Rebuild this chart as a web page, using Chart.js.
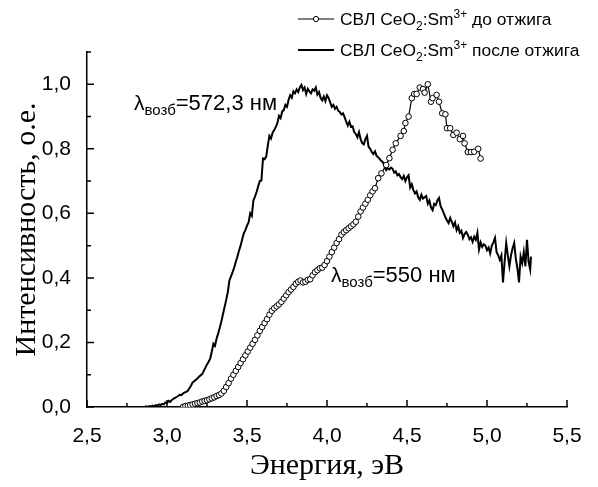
<!DOCTYPE html>
<html><head><meta charset="utf-8">
<script src="https://cdn.jsdelivr.net/npm/chart.js@4.4.1/dist/chart.umd.min.js"></script>
<style>html,body{margin:0;padding:0;background:#fff}#wrap{width:598px;height:487px;position:relative}canvas{display:block}</style>
</head><body>
<div id="wrap"><canvas id="c" width="598" height="487"></canvas></div>
<script>
// Series "до отжига" (open circles)
const energyBefore = [3.10,3.115,3.13,3.145,3.16,3.175,3.19,3.205,3.22,3.235,3.25,3.265,3.28,3.295,3.31,3.325,3.34,3.355,3.37,3.385,3.40,3.415,3.43,3.445,3.46,3.475,3.49,3.505,3.52,3.535,3.55,3.565,3.58,3.595,3.61,3.625,3.64,3.655,3.67,3.685,3.70,3.715,3.73,3.745,3.76,3.775,3.79,3.805,3.82,3.835,3.85,3.865,3.88,3.895,3.91,3.925,3.94,3.955,3.97,3.985,4.00,4.015,4.03,4.045,4.06,4.075,4.09,4.105,4.12,4.135,4.15,4.165,4.18,4.195,4.21,4.225,4.24,4.255,4.27,4.285,4.30,4.32,4.34,4.37,4.39,4.41,4.43,4.46,4.48,4.49,4.51,4.53,4.545,4.56,4.58,4.60,4.61,4.63,4.65,4.66,4.685,4.70,4.72,4.74,4.75,4.77,4.79,4.81,4.83,4.85,4.86,4.88,4.90,4.92,4.945,4.96];
const intensityBefore = [0.000,0.003,0.004,0.006,0.008,0.010,0.012,0.014,0.017,0.019,0.021,0.024,0.027,0.030,0.034,0.037,0.042,0.050,0.062,0.074,0.088,0.100,0.112,0.124,0.136,0.148,0.160,0.172,0.184,0.196,0.208,0.222,0.236,0.248,0.260,0.272,0.286,0.298,0.306,0.312,0.318,0.326,0.336,0.346,0.356,0.364,0.372,0.382,0.388,0.392,0.386,0.388,0.394,0.396,0.408,0.418,0.424,0.430,0.432,0.440,0.452,0.466,0.480,0.494,0.508,0.520,0.534,0.542,0.548,0.554,0.560,0.566,0.574,0.590,0.606,0.618,0.630,0.642,0.656,0.668,0.678,0.709,0.724,0.750,0.771,0.797,0.817,0.840,0.855,0.880,0.900,0.957,0.970,0.970,0.990,0.985,0.974,1.000,0.946,0.957,0.967,0.946,0.910,0.907,0.864,0.864,0.843,0.850,0.830,0.840,0.817,0.790,0.790,0.791,0.800,0.770];

// Series "после отжига" (solid line)
const energyAfter = [2.86,2.87,2.88,2.89,2.90,2.91,2.92,2.93,2.94,2.95,2.96,2.97,2.98,2.99,3.00,3.01,3.02,3.03,3.04,3.05,3.06,3.07,3.08,3.09,3.10,3.11,3.12,3.13,3.14,3.15,3.16,3.17,3.18,3.19,3.20,3.21,3.22,3.23,3.24,3.25,3.26,3.27,3.28,3.29,3.30,3.31,3.32,3.33,3.34,3.35,3.36,3.37,3.38,3.39,3.40,3.41,3.42,3.43,3.44,3.45,3.46,3.47,3.48,3.49,3.50,3.51,3.52,3.53,3.54,3.55,3.56,3.57,3.58,3.59,3.60,3.61,3.62,3.63,3.64,3.65,3.66,3.67,3.68,3.69,3.70,3.71,3.72,3.73,3.74,3.75,3.76,3.77,3.78,3.79,3.80,3.81,3.82,3.83,3.84,3.85,3.86,3.87,3.88,3.89,3.90,3.91,3.92,3.93,3.94,3.95,3.96,3.97,3.98,3.99,4.00,4.01,4.02,4.03,4.04,4.05,4.06,4.07,4.08,4.09,4.10,4.11,4.12,4.13,4.14,4.15,4.16,4.17,4.18,4.19,4.20,4.21,4.22,4.23,4.24,4.25,4.26,4.27,4.28,4.29,4.30,4.31,4.32,4.33,4.34,4.35,4.36,4.37,4.38,4.39,4.40,4.41,4.42,4.43,4.44,4.45,4.46,4.47,4.48,4.49,4.50,4.51,4.52,4.53,4.54,4.55,4.56,4.57,4.58,4.59,4.60,4.61,4.62,4.63,4.64,4.65,4.66,4.67,4.68,4.69,4.70,4.71,4.72,4.73,4.74,4.75,4.76,4.77,4.78,4.79,4.80,4.81,4.82,4.83,4.84,4.85,4.86,4.87,4.88,4.89,4.90,4.91,4.92,4.93,4.94,4.95,4.96,4.97,4.98,4.99,5.00,5.01,5.02,5.03,5.04,5.05,5.06,5.07,5.08,5.09,5.10,5.11,5.12,5.13,5.14,5.15,5.16,5.17,5.18,5.19,5.20,5.21,5.22,5.23,5.24,5.25,5.26,5.27,5.275];
const intensityAfter = [0.000,0.002,0.000,0.003,0.001,0.004,0.002,0.006,0.004,0.008,0.006,0.010,0.008,0.014,0.012,0.019,0.016,0.022,0.025,0.028,0.031,0.034,0.038,0.037,0.042,0.045,0.047,0.050,0.058,0.066,0.076,0.080,0.084,0.088,0.094,0.098,0.102,0.112,0.122,0.132,0.140,0.150,0.172,0.196,0.190,0.212,0.228,0.246,0.266,0.288,0.310,0.332,0.356,0.392,0.405,0.418,0.432,0.450,0.466,0.484,0.500,0.520,0.538,0.548,0.562,0.572,0.600,0.592,0.640,0.652,0.666,0.684,0.700,0.702,0.770,0.768,0.776,0.810,0.840,0.832,0.850,0.858,0.868,0.880,0.902,0.895,0.916,0.920,0.936,0.930,0.952,0.966,0.958,0.978,0.972,0.984,0.976,0.990,0.998,0.982,0.990,0.970,0.986,0.978,0.972,0.984,0.980,0.990,0.968,0.976,0.958,0.950,0.962,0.948,0.966,0.958,0.944,0.930,0.936,0.924,0.930,0.918,0.914,0.906,0.910,0.898,0.884,0.872,0.884,0.868,0.870,0.852,0.846,0.836,0.852,0.830,0.818,0.814,0.830,0.840,0.806,0.800,0.790,0.784,0.792,0.778,0.774,0.768,0.762,0.758,0.744,0.734,0.740,0.736,0.742,0.738,0.726,0.730,0.718,0.722,0.712,0.706,0.716,0.700,0.712,0.718,0.680,0.690,0.672,0.662,0.668,0.650,0.642,0.658,0.646,0.650,0.654,0.630,0.640,0.618,0.610,0.630,0.626,0.640,0.648,0.622,0.612,0.600,0.588,0.578,0.570,0.586,0.574,0.560,0.572,0.548,0.560,0.540,0.546,0.524,0.536,0.542,0.534,0.520,0.526,0.512,0.528,0.518,0.540,0.488,0.510,0.496,0.504,0.500,0.486,0.494,0.476,0.500,0.510,0.524,0.480,0.470,0.456,0.470,0.386,0.450,0.508,0.470,0.436,0.470,0.492,0.508,0.460,0.430,0.386,0.466,0.446,0.480,0.436,0.518,0.450,0.426,0.466];

const legendLabels = ['до отжига', 'после отжига'];
const annotationTexts = ['=572,3 нм', '=550 нм'];
const xTitle = 'Энергия, эВ';
const yTitle = 'Интенсивность, о.е.';

const toPts = (xs, ys) => xs.map((x, i) => ({x: x, y: ys[i]}));
const fmt = v => Number(v).toFixed(1).replace('.', ',');

const SANS = '"Liberation Sans", Arial, sans-serif';
const SERIF = '"Liberation Serif", "Times New Roman", serif';

function drawRich(ctx, x, y, parts) {
  let cx = x;
  for (const p of parts) {
    ctx.font = p.size + 'px ' + SANS;
    ctx.fillText(p.t, cx, y + (p.dy || 0));
    cx += ctx.measureText(p.t).width;
  }
}

const decor = {
  id: 'decor',
  afterDraw(chart) {
    const ctx = chart.ctx, xs = chart.scales.x, ys = chart.scales.y;
    const a = chart.chartArea;
    ctx.save();
    ctx.strokeStyle = '#000';
    ctx.lineWidth = 1.5;
    // inward ticks
    const xMaj = xs.ticks.map(t => t.value);
    const yMaj = ys.ticks.map(t => t.value);
    const xStep = 0.5, yStep = 0.2;
    ctx.beginPath();
    xMaj.forEach(v => { const p = xs.getPixelForValue(v); ctx.moveTo(p, a.bottom); ctx.lineTo(p, a.bottom - 7); });
    xMaj.forEach(v => { const m = v + xStep / 2; if (m < xs.max) { const p = xs.getPixelForValue(m); ctx.moveTo(p, a.bottom); ctx.lineTo(p, a.bottom - 4); } });
    yMaj.forEach(v => { const p = ys.getPixelForValue(v); ctx.moveTo(a.left, p); ctx.lineTo(a.left + 7, p); });
    yMaj.forEach(v => { const m = v + yStep / 2; if (m <= ys.max + 1e-9) { const p = ys.getPixelForValue(m); ctx.moveTo(a.left, p); ctx.lineTo(a.left + 4, p); } });
    ctx.stroke();

    // legend
    ctx.fillStyle = '#000';
    ctx.textBaseline = 'alphabetic';
    const rows = [{y: 19, marker: true}, {y: 50, marker: false}];
    rows.forEach((r, i) => {
      ctx.lineWidth = i === 0 ? 1.2 : 2;
      ctx.beginPath(); ctx.moveTo(298, r.y); ctx.lineTo(334, r.y); ctx.stroke();
      if (r.marker) {
        ctx.lineWidth = 1;
        ctx.beginPath(); ctx.arc(316, r.y, 2.6, 0, Math.PI * 2);
        ctx.fillStyle = '#fff'; ctx.fill(); ctx.stroke(); ctx.fillStyle = '#000';
      }
      drawRich(ctx, 340, r.y + 6, [
        {t: 'СВЛ CeO', size: 17.4},
        {t: '2', size: 12, dy: 5},
        {t: ':Sm', size: 17.4},
        {t: '3+', size: 12, dy: -7},
        {t: ' ' + legendLabels[i], size: 17.4}
      ]);
    });

    // annotations
    drawRich(ctx, 134, 110, [
      {t: 'λ', size: 21},
      {t: 'возб', size: 15, dy: 5},
      {t: annotationTexts[0], size: 22}
    ]);
    drawRich(ctx, 331, 282, [
      {t: 'λ', size: 21},
      {t: 'возб', size: 15, dy: 5},
      {t: annotationTexts[1], size: 22}
    ]);
    ctx.restore();
  }
};

new Chart(document.getElementById('c'), {
  type: 'line',
  data: {
    datasets: [
      {
        label: 'СВЛ CeO2:Sm3+ ' + legendLabels[0],
        data: toPts(energyBefore, intensityBefore),
        borderColor: '#000', borderWidth: 1.2,
        pointRadius: 2.8, pointBorderWidth: 1,
        pointBackgroundColor: '#fff', pointBorderColor: '#000',
        tension: 0, fill: false
      },
      {
        label: 'СВЛ CeO2:Sm3+ ' + legendLabels[1],
        data: toPts(energyAfter, intensityAfter),
        borderColor: '#000', borderWidth: 2,
        pointRadius: 0, tension: 0, fill: false
      }
    ]
  },
  options: {
    responsive: false,
    animation: false,
    devicePixelRatio: 1,
    layout: {padding: {left: 0, right: 31, top: 52, bottom: 0}},
    plugins: {legend: {display: false}, tooltip: {enabled: false}},
    scales: {
      x: {
        type: 'linear', min: 2.5, max: 5.5,
        afterFit: s => { s.height = 80; },
        grid: {display: false},
        border: {display: true, color: '#000', width: 1.5},
        ticks: {stepSize: 0.5, padding: 9, color: '#000', font: {family: SANS, size: 21}, callback: v => fmt(v), maxRotation: 0},
        title: {display: true, text: xTitle, color: '#000', font: {family: SERIF, size: 30}, padding: {top: 0, bottom: 3}}
      },
      y: {
        type: 'linear', min: 0, max: 1.1,
        afterFit: s => { s.width = 87; },
        afterBuildTicks: s => { s.ticks = s.ticks.filter(t => t.value <= 1.0 + 1e-9); },
        grid: {display: false},
        border: {display: true, color: '#000', width: 1.5},
        ticks: {stepSize: 0.2, padding: 8, color: '#000', font: {family: SANS, size: 21}, callback: v => fmt(v)},
        title: {display: true, text: yTitle, color: '#000', font: {family: SERIF, size: 30}, padding: {top: 9, bottom: 0}}
      }
    }
  },
  plugins: [decor]
});
</script>
</body></html>
